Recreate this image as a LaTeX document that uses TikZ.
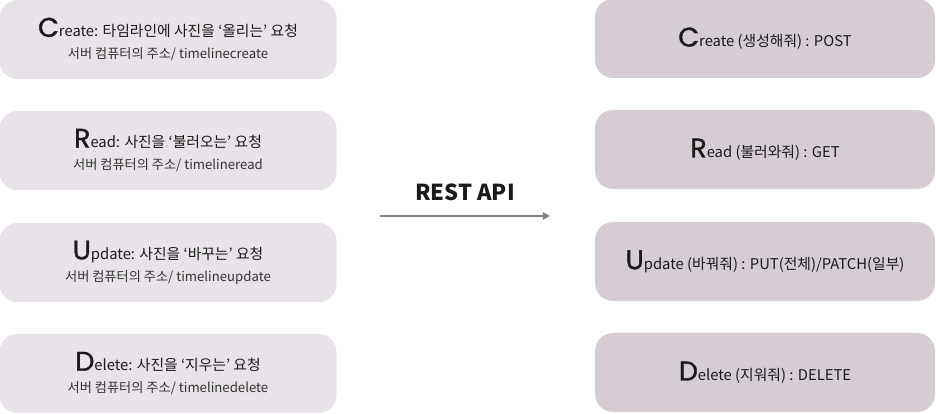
\documentclass[tikz,border=0pt]{standalone}
\usepackage{fontspec}
\setmainfont{Noto Sans CJK KR}
\newfontfamily\bigf[FakeBold=1.2]{Poppins}
\usetikzlibrary{arrows.meta}
\definecolor{leftfill}{HTML}{E8E3E8}
\definecolor{rightfill}{HTML}{D6CCD4}
\definecolor{arrowgray}{HTML}{7F7F7F}
\definecolor{txt}{HTML}{1A1A1A}
\definecolor{txtb}{HTML}{333333}
\newcommand{\Initial}[1]{{\bigf\fontsize{27}{27}\selectfont #1}}
\newcommand{\subline}[1]{{\fontsize{13.2}{22}\selectfont\color{txtb}#1}}
\tikzset{
  reqbox/.style={rounded corners=18pt, fill=leftfill, draw=none, minimum width=337pt, minimum height=79pt, align=center, text=txt, font=\fontsize{14.8}{22}\selectfont, inner sep=0pt},
  apibox/.style={rounded corners=18pt, fill=rightfill, draw=none, minimum width=340pt, minimum height=79pt, align=center, text=txt, font=\fontsize{14.8}{22}\selectfont, inner sep=0pt},
  flow/.style={draw=arrowgray, line width=1.8pt, -{Triangle[length=7pt,width=7pt]}}
}
\begin{document}
\begin{tikzpicture}[x=1pt,y=1pt]
\useasboundingbox (0,0) rectangle (936,414);
\node[reqbox] (lc) at (168,374.5) {\Initial{C}reate: 타임라인에 사진을 ‘올리는’ 요청\\ \subline{서버 컴퓨터의 주소/ timelinecreate}};
\node[reqbox] (lr) at (168,263.5) {\Initial{R}ead: 사진을 ‘불러오는’ 요청\\ \subline{서버 컴퓨터의 주소/ timelineread}};
\node[reqbox] (lu) at (168,151.5) {\Initial{U}pdate: 사진을 ‘바꾸는’ 요청\\ \subline{서버 컴퓨터의 주소/ timelineupdate}};
\node[reqbox] (ld) at (168,40.5) {\Initial{D}elete: 사진을 ‘지우는’ 요청\\ \subline{서버 컴퓨터의 주소/ timelinedelete}};
\node[apibox] (rc) at (765,375.5) {\Initial{C}reate (생성해줘) : POST};
\node[apibox] (rr) at (765,264.5) {\Initial{R}ead (불러와줘) : GET};
\node[apibox] (ru) at (765,152.5) {\Initial{U}pdate (바꿔줘) : PUT(전체)/PATCH(일부)};
\node[apibox] (rd) at (765,41.5) {\Initial{D}elete (지워줘) : DELETE};
\coordinate (a1) at (380,198);
\coordinate (a2) at (550,198);
\draw[flow] (a1) -- (a2);
\node[font=\bfseries\fontsize{22}{22}\selectfont, text=txt] (rest) at (465,221.5) {REST API};
\end{tikzpicture}
\end{document}
